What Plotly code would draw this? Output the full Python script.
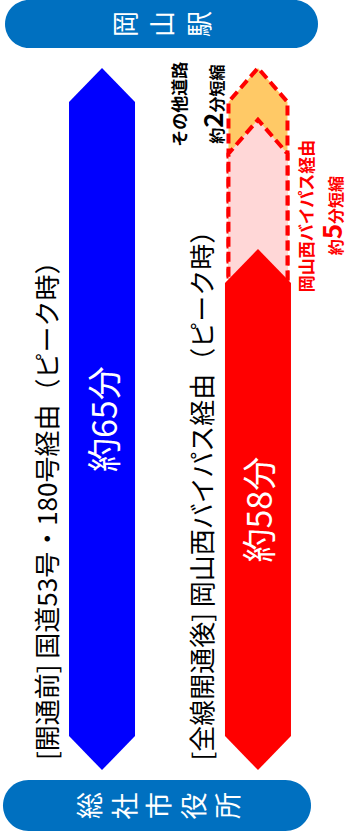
import plotly.graph_objects as go

# ---- data -------------------------------------------------------------
route_titles = [
    "[開通前] 国道53号・180号経由（ピーク時）",
    "[全線開通後] 岡山西バイパス経由（ピーク時）",
]
travel_minutes = [65, 58]                 # peak-hour travel time per route
saving_names = ["岡山西バイパス経由", "その他道路"]
saving_minutes = [5, 2]                   # time saved, stacked on the new route
origin_name = "総社市役所"
destination_name = "岡山駅"

# ---- layout / style constants -------------------------------------------
W, H = 350, 836
FONT = "Noto Sans CJK JP"
Y_RANGE = [35.30, 67.63]      # truncated time axis (minutes)
X_RANGE = [-0.654, 1.590]     # route index axis
ROUTE_START = 37.85           # arrows start here on the truncated axis
PX_PER_MIN = H / (Y_RANGE[1] - Y_RANGE[0])
PX_PER_X = W / (X_RANGE[1] - X_RANGE[0])
CHEVRON = 34 / PX_PER_MIN     # depth of arrow heads
BAR_HALF = 33 / PX_PER_X      # half width of solid arrows
DASH_HALF = 29.5 / PX_PER_X   # half width of dashed saving arrows

ROUTE_COLORS = ["#0000FF", "#FF0000"]
SAVING_FILL = ["#FFD7D7", "#FFC966"]
SAVING_TEXT = ["#FF0000", "#000000"]
PILL_COLOR = "#0070C0"


def arrow(xc, y0, y1, hw, d):
    xs = [xc - hw, xc, xc + hw, xc + hw, xc, xc - hw, xc - hw]
    ys = [y0 + d, y0, y0 + d, y1 - d, y1, y1 - d, y0 + d]
    return xs, ys


fig = go.Figure()

# solid "before" arrow
xs, ys = arrow(0, ROUTE_START, travel_minutes[0], BAR_HALF, CHEVRON)
fig.add_trace(go.Scatter(x=xs, y=ys, fill="toself", mode="lines",
                         fillcolor=ROUTE_COLORS[0], line=dict(width=0),
                         hoverinfo="skip", showlegend=False))

# dashed saving arrows: cumulative tops drawn from the largest down;
# their lower ends sit inside the solid "after" arrow, which covers them
tops = []
acc = travel_minutes[1]
for m in saving_minutes:
    acc += m
    tops.append(acc)
hidden_base = (ROUTE_START + travel_minutes[1]) / 2
for i in reversed(range(len(saving_minutes))):
    xs, ys = arrow(1, hidden_base, tops[i], DASH_HALF, CHEVRON)
    fig.add_trace(go.Scatter(x=xs, y=ys, fill="toself", mode="lines",
                             fillcolor=SAVING_FILL[i],
                             line=dict(color="#FF0000", width=4, dash="10px,5px"),
                             hoverinfo="skip", showlegend=False))

# solid "after" arrow
xs, ys = arrow(1, ROUTE_START, travel_minutes[1], BAR_HALF, CHEVRON)
fig.add_trace(go.Scatter(x=xs, y=ys, fill="toself", mode="lines",
                         fillcolor=ROUTE_COLORS[1], line=dict(width=0),
                         hoverinfo="skip", showlegend=False))

ann = []
# travel-time labels inside the arrows and route titles beside them
for i, m in enumerate(travel_minutes):
    ann.append(dict(x=i, y=(ROUTE_START + m) / 2, xref="x", yref="y",
                    xanchor="center", yanchor="middle",
                    text=f"約{m}分", textangle=-90, showarrow=False,
                    font=dict(family=FONT, size=34, color="white")))
    ann.append(dict(x=i, y=ROUTE_START, xref="x", yref="y", xshift=-57, yshift=8,
                    xanchor="center", yanchor="bottom", text=route_titles[i],
                    textangle=-90, showarrow=False,
                    font=dict(family=FONT, size=26, color="black")))

# saving labels
name_shift = [47, -79]
value_shift = [72, -46]
label_yshift = [-31, -10]
lo = travel_minutes[1]
for i, m in enumerate(saving_minutes):
    mid = lo + m / 2
    lo += m
    c = SAVING_TEXT[i]
    ann.append(dict(x=1, y=mid, xref="x", yref="y", xshift=name_shift[i],
                    yshift=label_yshift[i], xanchor="center", yanchor="middle",
                    text=f"<b>{saving_names[i]}</b>",
                    textangle=-90, showarrow=False,
                    font=dict(family=FONT, size=17, color=c)))
    ann.append(dict(x=1, y=mid, xref="x", yref="y", xshift=value_shift[i],
                    yshift=label_yshift[i], xanchor="center", yanchor="middle",
                    text=f"<b>約<span style='font-size:26px'>{m}</span>分短縮</b>",
                    textangle=-90, showarrow=False,
                    font=dict(family=FONT, size=16, color=c)))


# station pills
def pill_path(x0, y0, x1, y1):
    r = (y1 - y0) / 2
    k = 0.5523 * r
    ym = (y0 + y1) / 2
    pts = [
        ("M", [(x0 + r, y0)]),
        ("L", [(x1 - r, y0)]),
        ("C", [(x1 - r + k, y0), (x1, ym - k), (x1, ym)]),
        ("C", [(x1, ym + k), (x1 - r + k, y1), (x1 - r, y1)]),
        ("L", [(x0 + r, y1)]),
        ("C", [(x0 + r - k, y1), (x0, ym + k), (x0, ym)]),
        ("C", [(x0, ym - k), (x0 + r - k, y0), (x0 + r, y0)]),
    ]
    s = ""
    for cmd, ps in pts:
        s += cmd + " ".join(f"{px / W:.5f},{1 - py / H:.5f}" for px, py in ps) + " "
    return s + "Z"


shapes = [
    dict(type="path", xref="paper", yref="paper", path=pill_path(5, 0, 318, 48),
         fillcolor=PILL_COLOR, line=dict(width=0)),
    dict(type="path", xref="paper", yref="paper", path=pill_path(3, 780, 311, 831),
         fillcolor=PILL_COLOR, line=dict(width=0)),
]


def pill_text(name, cx, cy, step, size):
    n = len(name)
    for j, ch in enumerate(name):
        x = cx + (j - (n - 1) / 2) * step
        ann.append(dict(x=x / W, y=1 - cy / H, xref="paper", yref="paper",
                        xanchor="center", yanchor="middle",
                        text=ch, textangle=-90, showarrow=False,
                        font=dict(family=FONT, size=size, color="white")))


pill_text(destination_name, 160, 24, 37, 26)
pill_text(origin_name, 157, 806, 34.5, 27)

fig.update_layout(
    width=W, height=H, margin=dict(l=0, r=0, t=0, b=0),
    paper_bgcolor="white", plot_bgcolor="white",
    xaxis=dict(range=X_RANGE, visible=False, domain=[0, 1], fixedrange=True),
    yaxis=dict(range=Y_RANGE, visible=False, domain=[0, 1], fixedrange=True),
    shapes=shapes, annotations=ann, showlegend=False,
)

fig.write_html("out.html", config={"displayModeBar": False})
